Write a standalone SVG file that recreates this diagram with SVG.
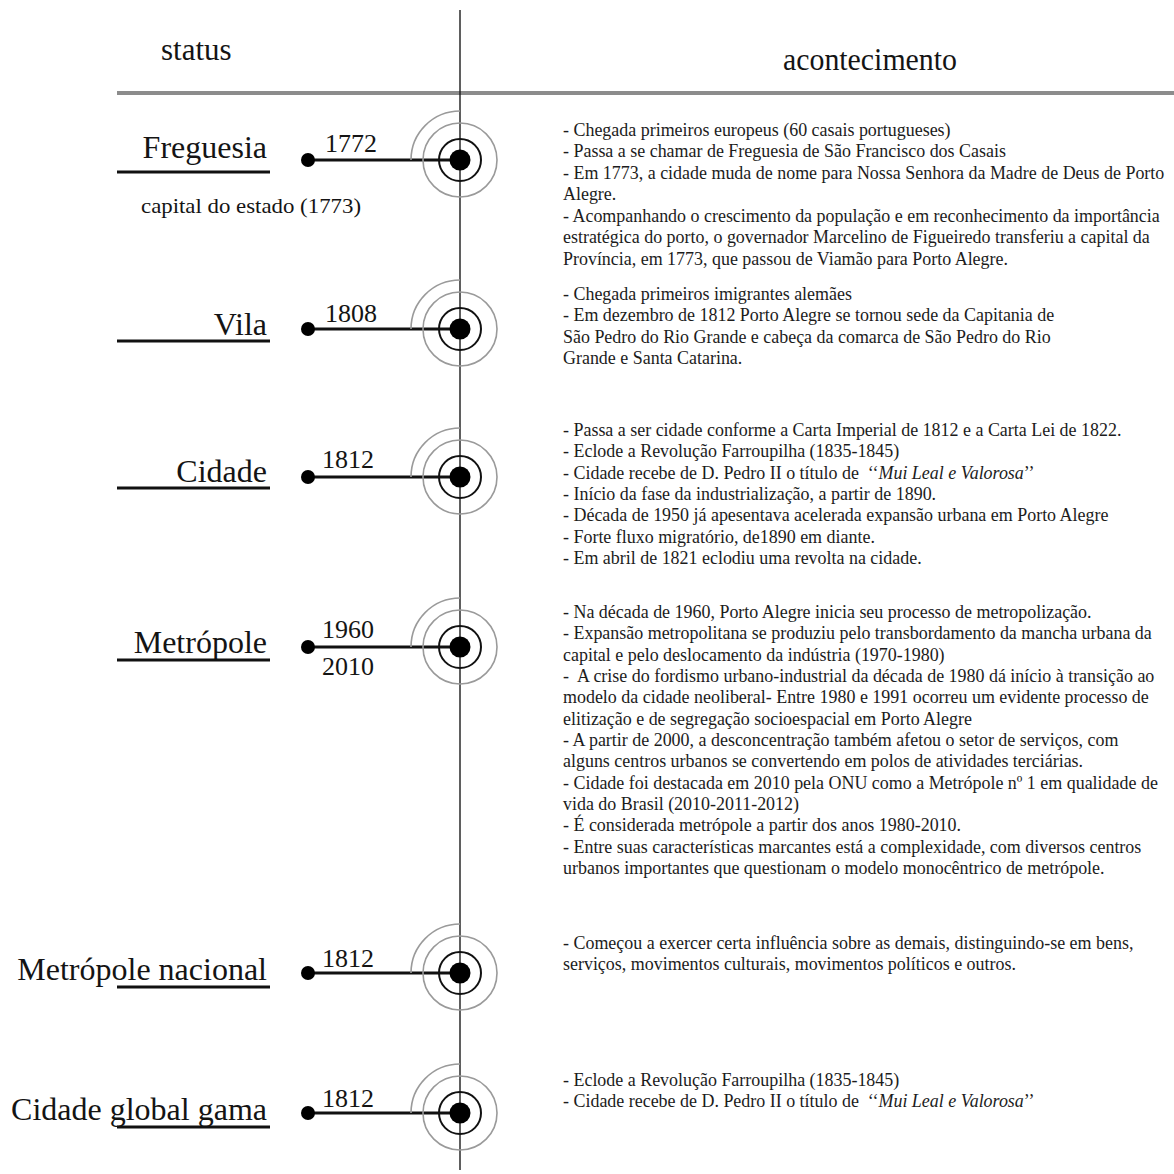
<svg xmlns="http://www.w3.org/2000/svg" xmlns:xlink="http://www.w3.org/1999/xlink" width="1174" height="1174" viewBox="0 0 1174 1174">
  <style>
    text { font-family: "Liberation Serif", "Times New Roman", serif; fill: #141414; white-space: pre; }
    .head { font-size: 31px; }
    .status { font-size: 32px; text-anchor: end; }
    .year { font-size: 26px; }
    .note { font-size: 22px; }
    .body { font-size: 19px; fill: #1c1c1c; }
    .it { font-style: italic; }
    .uline { stroke: #111; stroke-width: 3; }
    .stem { stroke: #111; stroke-width: 3; }
    .axis { stroke: #1a1a1a; stroke-width: 1.4; fill: none; }
    .ring-gray { fill: none; stroke: #9a9a9a; stroke-width: 1.6; }
    .ring-black { fill: none; stroke: #111; stroke-width: 2; }
  </style>
  <defs>
    <!-- concentric target placed on the time axis -->
    <g id="target">
      <path class="ring-gray" d="M 0 -49 A 49 49 0 0 0 -49 0"/>
      <circle class="ring-gray" r="37"/>
      <circle class="ring-black" r="21"/>
      <circle r="10.5" fill="#000"/>
    </g>
  </defs>

  <rect width="1174" height="1174" fill="#fff"/>

  <!-- column headers -->
  <g id="header">
    <text class="head" x="161" y="60">status</text>
    <text class="head" x="783" y="70" textLength="174" lengthAdjust="spacingAndGlyphs">acontecimento</text>
    <line x1="117" y1="93" x2="1174" y2="93" stroke="#8c8c8c" stroke-width="4"/>
  </g>

  <!-- time axis and stems -->
  <g id="connectors">
    <line class="axis" x1="460" y1="10" x2="460" y2="1170"/>
    <line class="stem" x1="308" y1="160" x2="460" y2="160"/>
    <line class="stem" x1="308" y1="329" x2="460" y2="329"/>
    <line class="stem" x1="308" y1="477" x2="460" y2="477"/>
    <line class="stem" x1="308" y1="647" x2="460" y2="647"/>
    <line class="stem" x1="308" y1="973" x2="460" y2="973"/>
    <line class="stem" x1="308" y1="1113" x2="460" y2="1113"/>
  </g>

  <g id="freguesia">
    <text class="status" x="267" y="158">Freguesia</text>
    <line class="uline" x1="117" y1="172" x2="270" y2="172"/>
    <text class="note" x="141" y="213" textLength="220" lengthAdjust="spacingAndGlyphs">capital do estado (1773)</text>
    <text class="year" x="325" y="152">1772</text>
    <circle cx="308" cy="160" r="7" fill="#000"/>
    <use xlink:href="#target" x="460" y="160"/>
    <!-- event notes, slightly condensed -->
    <g transform="translate(563 0) scale(0.945 1)">
      <text class="body" y="136">- Chegada primeiros europeus (60 casais portugueses)</text>
      <text class="body" y="157.5">- Passa a se chamar de Freguesia de São Francisco dos Casais</text>
      <text class="body" y="179">- Em 1773, a cidade muda de nome para Nossa Senhora da Madre de Deus de Porto</text>
      <text class="body" y="200.5">Alegre.</text>
      <text class="body" y="222">- Acompanhando o crescimento da população e em reconhecimento da importância</text>
      <text class="body" y="243.5">estratégica do porto, o governador Marcelino de Figueiredo transferiu a capital da</text>
      <text class="body" y="265">Província, em 1773, que passou de Viamão para Porto Alegre.</text>
    </g>
  </g>

  <g id="vila">
    <text class="status" x="267" y="335">Vila</text>
    <line class="uline" x1="117" y1="341" x2="270" y2="341"/>
    <text class="year" x="325" y="322">1808</text>
    <circle cx="308" cy="329" r="7" fill="#000"/>
    <use xlink:href="#target" x="460" y="329"/>
    <g transform="translate(563 0) scale(0.945 1)">
      <text class="body" y="300">- Chegada primeiros imigrantes alemães</text>
      <text class="body" y="321.3">- Em dezembro de 1812 Porto Alegre se tornou sede da Capitania de</text>
      <text class="body" y="342.6">São Pedro do Rio Grande e cabeça da comarca de São Pedro do Rio</text>
      <text class="body" y="364">Grande e Santa Catarina.</text>
    </g>
  </g>

  <g id="cidade">
    <text class="status" x="267" y="482">Cidade</text>
    <line class="uline" x1="117" y1="488" x2="270" y2="488"/>
    <text class="year" x="322" y="468">1812</text>
    <circle cx="308" cy="477" r="7" fill="#000"/>
    <use xlink:href="#target" x="460" y="477"/>
    <g transform="translate(563 0) scale(0.945 1)">
      <text class="body" y="436">- Passa a ser cidade conforme a Carta Imperial de 1812 e a Carta Lei de 1822.</text>
      <text class="body" y="457.3">- Eclode a Revolução Farroupilha (1835-1845)</text>
      <text class="body" y="478.6">- Cidade recebe de D. Pedro II o título de  ‘‘<tspan class="it">Mui Leal e Valorosa</tspan>’’</text>
      <text class="body" y="500">- Início da fase da industrialização, a partir de 1890.</text>
      <text class="body" y="521.3">- Década de 1950 já apesentava acelerada expansão urbana em Porto Alegre</text>
      <text class="body" y="542.6">- Forte fluxo migratório, de1890 em diante.</text>
      <text class="body" y="564">- Em abril de 1821 eclodiu uma revolta na cidade.</text>
    </g>
  </g>

  <g id="metropole">
    <text class="status" x="267" y="653">Metrópole</text>
    <line class="uline" x1="117" y1="660" x2="270" y2="660"/>
    <text class="year" x="322" y="638">1960</text>
    <text class="year" x="322" y="675">2010</text>
    <circle cx="308" cy="647" r="7" fill="#000"/>
    <use xlink:href="#target" x="460" y="647"/>
    <g transform="translate(563 0) scale(0.945 1)">
      <text class="body" y="618">- Na década de 1960, Porto Alegre inicia seu processo de metropolização.</text>
      <text class="body" y="639.3">- Expansão metropolitana se produziu pelo transbordamento da mancha urbana da</text>
      <text class="body" y="660.6">capital e pelo deslocamento da indústria (1970-1980)</text>
      <text class="body" y="682">-  A crise do fordismo urbano-industrial da década de 1980 dá início à transição ao</text>
      <text class="body" y="703.3">modelo da cidade neoliberal- Entre 1980 e 1991 ocorreu um evidente processo de</text>
      <text class="body" y="724.6">elitização e de segregação socioespacial em Porto Alegre</text>
      <text class="body" y="746">- A partir de 2000, a desconcentração também afetou o setor de serviços, com</text>
      <text class="body" y="767.3">alguns centros urbanos se convertendo em polos de atividades terciárias.</text>
      <text class="body" y="788.6">- Cidade foi destacada em 2010 pela ONU como a Metrópole nº 1 em qualidade de</text>
      <text class="body" y="810">vida do Brasil (2010-2011-2012)</text>
      <text class="body" y="831.3">- É considerada metrópole a partir dos anos 1980-2010.</text>
      <text class="body" y="852.6">- Entre suas características marcantes está a complexidade, com diversos centros</text>
      <text class="body" y="874">urbanos importantes que questionam o modelo monocêntrico de metrópole.</text>
    </g>
  </g>

  <g id="metropole-nacional">
    <text class="status" x="267" y="980">Metrópole nacional</text>
    <line class="uline" x1="117" y1="987" x2="270" y2="987"/>
    <text class="year" x="322" y="967">1812</text>
    <circle cx="308" cy="973" r="7" fill="#000"/>
    <use xlink:href="#target" x="460" y="973"/>
    <g transform="translate(563 0) scale(0.945 1)">
      <text class="body" y="949">- Começou a exercer certa influência sobre as demais, distinguindo-se em bens,</text>
      <text class="body" y="970.3">serviços, movimentos culturais, movimentos políticos e outros.</text>
    </g>
  </g>

  <g id="cidade-global-gama">
    <text class="status" x="267" y="1120">Cidade global gama</text>
    <line class="uline" x1="117" y1="1127" x2="270" y2="1127"/>
    <text class="year" x="322" y="1107">1812</text>
    <circle cx="308" cy="1113" r="7" fill="#000"/>
    <use xlink:href="#target" x="460" y="1113"/>
    <g transform="translate(563 0) scale(0.945 1)">
      <text class="body" y="1086">- Eclode a Revolução Farroupilha (1835-1845)</text>
      <text class="body" y="1107.3">- Cidade recebe de D. Pedro II o título de  ‘‘<tspan class="it">Mui Leal e Valorosa</tspan>’’</text>
    </g>
  </g>
</svg>
